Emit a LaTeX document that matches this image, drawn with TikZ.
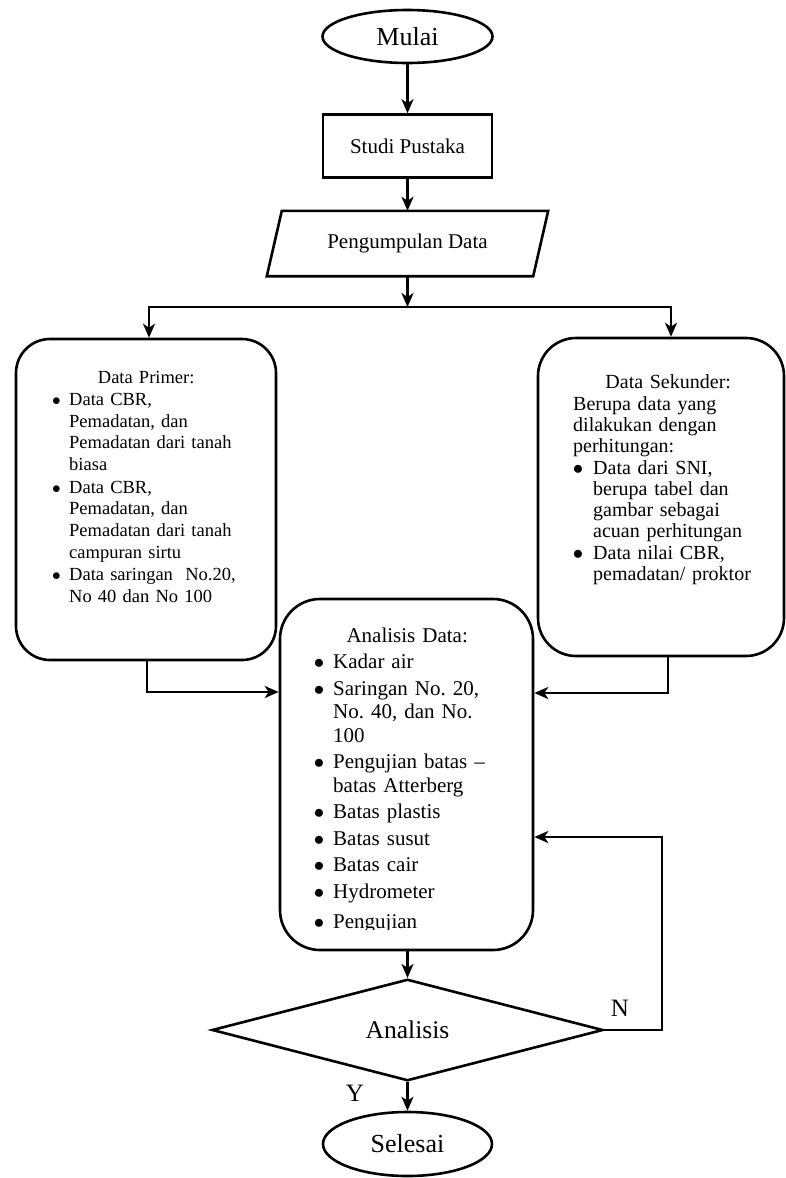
\documentclass[tikz,border=0pt]{standalone}
\usepackage{fontspec}
\setmainfont{Liberation Serif}
\usetikzlibrary{shapes.geometric,arrows.meta}
\newcommand{\bitem}[3]{{\leftskip=#1\relax\rightskip=0pt plus 1fil\parindent=0pt\noindent\llap{$\bullet$\hskip #2}#3\par}}
\tikzset{
  shapeline/.style={line width=2.6pt},
  base/.style={draw, shapeline, inner sep=0pt},
  term/.style={base, ellipse, minimum width=170pt, minimum height=53pt, font=\fontsize{26}{30}\selectfont},
  proc/.style={base, rectangle, minimum width=169pt, minimum height=63pt, font=\fontsize{21}{25}\selectfont},
  rbox/.style={base, rectangle},
  txt/.style={anchor=base west, inner sep=0pt},
  lbl/.style={inner sep=0pt, font=\fontsize{25}{30}\selectfont},
  conn/.style={shapeline, -{Stealth[length=14pt,width=12pt,inset=4pt]}},
}
\begin{document}
\begin{tikzpicture}[x=1pt,y=-1pt]
\useasboundingbox (0,0) rectangle (786,1178);
\frenchspacing

% top column
\node[term] (mulai) at (407.5,36.5) {Mulai};
\node[proc] (studi) at (407.5,146) {Studi Pustaka};
\node[inner sep=0pt, minimum width=251pt, minimum height=65pt, font=\fontsize{21}{25}\selectfont] (data) at (407.5,243.5) {Pengumpulan Data};
\draw[shapeline] (data.north west) -- ([xshift=15pt]data.north east) -- (data.south east) -- ([xshift=-15pt]data.south west) -- cycle;
\coordinate (split) at (407.5,307);

% boxes
\node[rbox, minimum width=260pt, minimum height=321pt, rounded corners=34pt] (primer) at (146,499.5) {};
\node[rbox, minimum width=246pt, minimum height=318pt, rounded corners=38pt] (sekunder) at (661,497) {};
\node[rbox, minimum width=253pt, minimum height=351pt, rounded corners=40pt] (analisis) at (406.5,774.5) {};

% primer text
\node[txt, text width=252pt, font=\fontsize{18.5}{21.8}\selectfont] (primertxt) at (20,383) {%
\frenchspacing\setlength\parskip{0.5pt}%
{\centering Data Primer:\par}%
\bitem{49pt}{8.5pt}{Data CBR,\\Pemadatan, dan\\Pemadatan dari tanah\\biasa}%
\bitem{49pt}{8.5pt}{Data CBR,\\Pemadatan, dan\\Pemadatan dari tanah\\campuran sirtu}%
\bitem{49pt}{8.5pt}{Data saringan\ \ No.20,\\No 40 dan No 100}};

% sekunder text
\node[txt, text width=190pt, font=\fontsize{20}{21}\selectfont] (sekundertxt) at (573,388.5) {%
\frenchspacing\setlength\parskip{1pt}%
{\centering Data Sekunder:\par}%
{\raggedright\parindent=0pt Berupa data yang\\dilakukan dengan\\perhitungan:\par}%
\bitem{20pt}{10pt}{Data dari SNI,\\berupa tabel dan\\gambar sebagai\\acuan perhitungan}%
\bitem{20pt}{10pt}{Data nilai CBR,\\pemadatan/ proktor}};

% analisis text (clipped at bottom like the reference)
\begin{scope}
\clip (282,601) rectangle (531,929);
\node[txt, text width=214pt, font=\fontsize{21}{23.5}\selectfont] (analisistxt) at (300,642) {%
\frenchspacing\setlength\parskip{3pt}%
{\centering Analisis Data:\par}%
\bitem{33pt}{9pt}{Kadar air}%
\bitem{33pt}{9pt}{Saringan No. 20,\\No. 40, dan No.\\100}%
\bitem{33pt}{9pt}{Pengujian batas --\\batas Atterberg}%
\bitem{33pt}{9pt}{Batas plastis}%
\bitem{33pt}{9pt}{Batas susut}%
\bitem{33pt}{9pt}{Batas cair}%
\bitem{33pt}{9pt}{Hydrometer}%
\vspace{4pt}%
\bitem{33pt}{9pt}{Pengujian}};
\end{scope}

% decision and end
\node[base, diamond, minimum width=391pt, minimum height=94pt, font=\fontsize{25.5}{30}\selectfont] (dec) at (407.5,1030) {Analisis};
\node[term, minimum width=169pt, minimum height=64pt] (selesai) at (407.5,1144) {Selesai};
\node[lbl] (nlab) at (620,1008) {N};
\node[lbl] (ylab) at (355,1093) {Y};
\coordinate (fb) at (662,1030);

% connectors
\draw[conn] (mulai.south) -- (studi.north);
\draw[conn] (studi.south) -- (data.north);
\draw[conn] (data.south) -- (split);
\draw[conn] (split) -| ([xshift=3pt]primer.north);
\draw[conn] (split) -| ([xshift=10pt]sekunder.north);
\draw[conn] ([xshift=1pt]primer.south) |- ([yshift=82.5pt]analisis.west);
\draw[conn] ([xshift=7pt]sekunder.south) |- ([yshift=81.5pt]analisis.east);
\draw[conn] (analisis.south -| dec.north) -- (dec.north);
\draw[conn] (dec.south) -- (selesai.north);
\draw[conn] (dec.east) -- (fb) |- ([yshift=-62.5pt]analisis.east);
\end{tikzpicture}
\end{document}
